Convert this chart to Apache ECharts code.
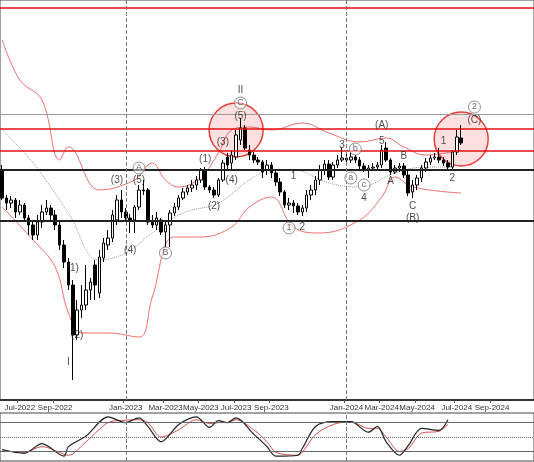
<!DOCTYPE html>
<html><head><meta charset="utf-8">
<script src="https://cdn.jsdelivr.net/npm/echarts@6/dist/echarts.min.js"></script>
<style>html,body{margin:0;padding:0;background:#fff}#c{width:534px;height:462px}</style>
</head><body><div id="c"></div>
<script>
// weekly candles: [open, close, low, high]
const ohlc = [
[230,202,200,235],[202,197,190,205],[197,200,192,204],[200,188,182,202],[188,195,185,200],
[195,182,178,197],[182,175,165,185],[175,165,160,180],[165,178,160,185],[178,188,172,195],
[188,192,185,200],[192,185,178,195],[185,175,170,190],[175,155,150,180],[155,138,132,160],
[138,115,110,142],[115,65,20,120],[65,90,60,100],[90,95,82,115],[95,110,90,135],
[110,118,100,122],[135,115,100,140],[107,143,102,150],[142,157,138,162],[155,162,150,170],
[162,185,158,190],[180,200,175,205],[200,188,182,210],[188,182,178,192],[182,180,167,186],
[180,193,167,195],[193,210,190,215],[210,209,205,220],[210,178,175,212],[178,175,172,185],
[175,182,170,188],[180,168,165,182],[168,175,153,178],[175,187,153,190],[187,193,184,197],
[193,202,190,205],[202,208,200,212],[208,212,205,215],[212,215,208,220],[215,220,210,224],
[220,230,217,232],[230,213,210,233],[213,210,207,215],[210,205,202,213],[205,220,203,222],
[220,237,218,240],[243,235,230,247],[237,245,230,250],[243,265,240,270],[260,272,255,282],
[272,252,250,275],[250,245,240,255],[245,240,237,248],[240,238,235,243],[238,228,222,240],
[230,235,225,240],[235,227,222,238],[227,218,214,230],[218,208,204,222],[208,195,192,210],
[195,197,190,202],[197,194,187,200],[194,188,185,197],[188,192,184,195],[192,205,188,210],
[205,210,200,215],[210,220,205,224],[220,230,215,235],[230,236,225,240],[236,223,220,240],
[223,235,220,238],[235,240,232,245],[240,242,238,252],[242,240,236,246],[240,243,237,248],
[243,240,237,245],[240,234,231,243],[234,230,228,237],[230,232,222,235],[232,233,229,237],
[233,235,230,238],[235,250,232,255],[252,240,238,258],[240,228,225,242],[228,232,226,235],
[232,234,228,237],[234,225,222,237],[225,207,204,230],[208,215,202,220],[215,222,210,225],
[222,232,218,235],[232,238,228,242],[238,242,235,245],[242,243,240,247],[243,240,237,252],
[240,237,234,243],[237,233,230,240],[233,248,230,250],[248,263,245,270],[262,257,255,275]
];
const nCats = 121;
const tickIdx = [4,12,28,37,45,53,61,78,86,94,103,111];
const tickText = ['Jul-2022','Sep-2022','Jan-2023','Mar-2023','May-2023','Jul-2023','Sep-2023','Jan-2024','Mar-2024','May-2024','Jul-2024','Sep-2024'];
const yearLines = [28,78];
const upperBand = [[0,360],[4,320],[9,300],[13,240],[15,253],[22,210],[30,220],[34,237],[37,220],[40,213],[45,223],[49,247],[52,270],[56,273],[61,270],[68,277],[74,267],[81,258],[87,262],[91,253],[96,245],[104,250]];
const lowerBand = [[0,193],[7,160],[12,133],[15,87],[18,67],[24,67],[31,63],[34,103],[39,163],[45,163],[52,173],[56,193],[61,203],[66,173],[72,167],[81,180],[86,203],[89,223],[93,213],[104,207]];
const midBand = [[0,270],[7,237],[15,187],[22,140],[28,147],[34,167],[41,187],[49,197],[56,220],[61,230],[66,230],[74,217],[81,213],[89,227],[96,233],[102,233]];
const hLevelsRed = [392,271,249];
const hLevelsGray = [286];
const hLevelsBlack = [230,179];
const stochK = [[0,24],[5,16],[9,36],[14,10],[15,30],[19,52],[24,92],[28,80],[31,90],[33,72],[36,40],[40,76],[44,92],[47,70],[49,84],[51,80],[53,90],[57,56],[60,30],[62,10],[67,12],[68,26],[71,72],[75,82],[79,82],[83,60],[85,72],[87,40],[90,12],[92,32],[95,68],[99,64],[101,86]];
const stochD = [[0,22],[5,18],[9,30],[14,14],[15,12],[19,40],[24,80],[28,85],[31,86],[33,80],[36,50],[40,65],[44,86],[47,78],[49,80],[51,80],[53,86],[57,65],[60,40],[62,18],[67,12],[68,18],[71,55],[75,76],[79,82],[83,68],[85,68],[87,50],[90,20],[92,26],[95,58],[99,62],[101,76]];
const waveText = [[15,38,'I'],[16,132,'(1)'],[17,65,'(2)'],[26,220,'(3)'],[29,150,'(4)'],[31,220,'(5)'],
[46,241,'(1)'],[48,194,'(2)'],[50,258,'(3)'],[52,220,'(4)'],[54,284,'(5)'],[54,310,'II'],
[66,224,'1'],[68,173,'2'],[77,255,'3'],[82,202,'4'],[86,259,'5'],[86,275,'(A)'],[88,219,'A'],[91,244,'B'],
[93,194,'C'],[93,182,'(B)'],[100,259,'1'],[102,222,'2'],[107,280,'(C)']];
const waveCircled = [[31,232,'A'],[37,147,'B'],[54,297,'C'],[65,172,'1'],[80,251,'b'],[79,222,'a'],[82,215,'c'],[107,293,'2']];
const hotZones = [[53,270],[104,261]];

const cats = Array.from({length:nCats},(_,i)=>{const k=tickIdx.indexOf(i);return k>=0?tickText[k]:'';});
const showTick = (i)=>tickIdx.includes(i);
const hl = (vals,color,w)=>vals.map(v=>({yAxis:v,lineStyle:{color:color,width:w,type:'solid'}}));

const chart = echarts.init(document.getElementById('c'));
chart.setOption({
  animation:false,
  backgroundColor:'#fff',
  grid:[{left:0,right:0,top:0,height:400,show:true,borderColor:'#444'},{left:0,right:0,top:413,height:48,show:true,borderColor:'#444'}],
  xAxis:[
    {type:'category',data:cats,gridIndex:0,boundaryGap:true,
     axisLine:{lineStyle:{color:'#333',width:2}},
     axisTick:{show:true,interval:(i)=>showTick(i),length:3,lineStyle:{color:'#555'}},
     axisLabel:{interval:(i)=>showTick(i),fontSize:8,color:'#333',margin:4,fontFamily:'Liberation Sans'},
     splitLine:{show:false}},
    {type:'category',data:cats,gridIndex:1,boundaryGap:true,axisLine:{show:false},axisTick:{show:false},axisLabel:{show:false}}
  ],
  yAxis:[
    {type:'value',gridIndex:0,min:0,max:400,show:false},
    {type:'value',gridIndex:1,min:0,max:100,show:false}
  ],
  series:[
    {type:'line',data:upperBand,smooth:0.4,symbol:'none',lineStyle:{color:'#f07070',width:1},xAxisIndex:0,yAxisIndex:0,z:1,
     markLine:{silent:true,symbol:'none',label:{show:false},data:[
       ...hl(hLevelsRed,'#e01010',1.5),...hl(hLevelsGray,'#999',1),...hl(hLevelsBlack,'#222',2),
       ...yearLines.map(x=>({xAxis:x,lineStyle:{color:'#777',type:'dashed',width:1}}))]}},
    {type:'line',data:lowerBand,smooth:0.4,symbol:'none',lineStyle:{color:'#f07070',width:1},z:1},
    {type:'line',data:midBand,smooth:0.4,symbol:'none',lineStyle:{color:'#999',width:1,type:'dotted'},z:1},
    {type:'scatter',data:hotZones,symbol:'circle',symbolSize:54,itemStyle:{color:'rgba(255,60,60,0.2)',borderColor:'#e01010',borderWidth:1.5},z:2,silent:true},
    {type:'candlestick',data:ohlc,barWidth:3,itemStyle:{color:'#fff',color0:'#000',borderColor:'#000',borderColor0:'#000',borderWidth:1},z:3},
    {type:'scatter',data:waveText.map(d=>({value:[d[0],d[1]],name:d[2]})),symbolSize:0,z:5,
     label:{show:true,position:'inside',formatter:p=>p.name,color:'#222',fontSize:10,
       fontFamily:'Liberation Sans',rich:{}}},
    {type:'scatter',data:waveCircled.map(d=>({value:[d[0],d[1]],name:d[2]})),symbol:'circle',symbolSize:12,z:5,
     itemStyle:{color:'rgba(255,255,255,0.6)',borderColor:'#777',borderWidth:1},
     label:{show:true,position:'inside',formatter:p=>p.name,color:'#444',fontSize:9,fontFamily:'Liberation Sans'}},
    {type:'line',xAxisIndex:1,yAxisIndex:1,data:stochD,smooth:0.3,symbol:'none',lineStyle:{color:'#d05050',width:1},
     markLine:{silent:true,symbol:'none',label:{show:false},data:[
       {yAxis:80,lineStyle:{color:'#666',type:'solid',width:1}},
       {yAxis:50,lineStyle:{color:'#666',type:'dotted',width:1}},
       {yAxis:20,lineStyle:{color:'#666',type:'solid',width:1}},
       ...yearLines.map(x=>({xAxis:x,lineStyle:{color:'#777',type:'dashed',width:1}}))]}},
    {type:'line',xAxisIndex:1,yAxisIndex:1,data:stochK,smooth:0.3,symbol:'none',lineStyle:{color:'#222',width:1.2}}
  ]
});
</script></body></html>
